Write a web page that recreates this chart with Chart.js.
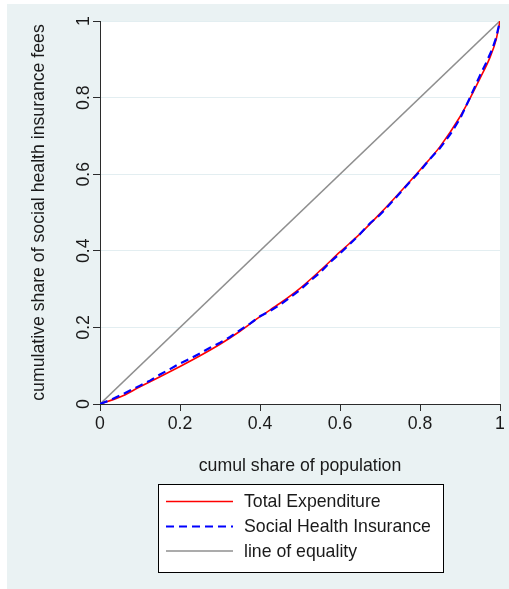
<!DOCTYPE html>
<html>
<head>
<meta charset="utf-8">
<script src="https://cdn.jsdelivr.net/npm/chart.js@4"></script>
<style>
  html, body { margin: 0; padding: 0; background: #ffffff; }
  #panel { position: absolute; left: 7px; top: 4px; width: 502px; height: 585px; background: #eaf2f3; }
  canvas { display: block; }
</style>
</head>
<body>
<div id="panel"><canvas id="c" width="502" height="585"></canvas></div>
<script>
// ---- data ----
const seriesLabels = ["Total Expenditure", "Social Health Insurance", "line of equality"];
const totalX = [0, 0.05, 0.1, 0.15, 0.2, 0.25, 0.3, 0.35, 0.4, 0.45, 0.5, 0.55, 0.6, 0.65, 0.7, 0.75, 0.8, 0.85, 0.9, 0.925, 0.95, 0.975, 0.99, 1];
const totalY = [0, 0.018, 0.045, 0.071, 0.098, 0.126, 0.156, 0.19, 0.228, 0.263, 0.302, 0.348, 0.397, 0.444, 0.497, 0.553, 0.611, 0.672, 0.75, 0.798, 0.85, 0.905, 0.95, 1];
const shiX = [0, 0.025, 0.05, 0.075, 0.1, 0.125, 0.15, 0.175, 0.2, 0.225, 0.25, 0.275, 0.3, 0.325, 0.35, 0.375, 0.4, 0.425, 0.45, 0.475, 0.5, 0.525, 0.55, 0.575, 0.6, 0.625, 0.65, 0.675, 0.7, 0.725, 0.75, 0.775, 0.8, 0.825, 0.85, 0.875, 0.9, 0.925, 0.95, 0.965, 0.98, 0.99, 1];
const shiY = [0, 0.01, 0.022, 0.035, 0.048, 0.061, 0.077, 0.091, 0.106, 0.118, 0.132, 0.147, 0.16, 0.175, 0.193, 0.21, 0.229, 0.243, 0.259, 0.278, 0.298, 0.321, 0.343, 0.37, 0.393, 0.418, 0.444, 0.472, 0.494, 0.522, 0.551, 0.58, 0.608, 0.64, 0.668, 0.703, 0.745, 0.8, 0.858, 0.89, 0.925, 0.955, 1];
const equalX = [0, 1];
const equalY = [0, 1];
const xTicks = [0, 0.2, 0.4, 0.6, 0.8, 1];
const yTicks = [0, 0.2, 0.4, 0.6, 0.8, 1];
const xTitle = "cumul share of population";
const yTitle = "cumulative share of social health insurance fees";

const FONT = '"Liberation Sans", Arial, sans-serif';
const FS = 17.7;
const TXT = '#1a1a1a';
const AXIS = '#2b2b2b';

function pts(xs, ys) { return xs.map((x, i) => ({ x: x, y: ys[i] })); }
function fmt(v) { return String(Number(Number(v).toFixed(2))); }

const plotBg = {
  id: 'plotBg',
  beforeDraw(chart) {
    const a = chart.chartArea, ctx = chart.ctx;
    ctx.save();
    ctx.fillStyle = '#ffffff';
    ctx.fillRect(a.left, a.top, a.right - a.left, a.bottom - a.top);
    ctx.restore();
  }
};

const yLabels = {
  id: 'yLabels',
  afterDraw(chart) {
    const s = chart.scales.y, ctx = chart.ctx;
    ctx.save();
    ctx.fillStyle = TXT;
    ctx.font = FS + 'px ' + FONT;
    ctx.textAlign = 'center';
    ctx.textBaseline = 'alphabetic';
    s.ticks.forEach(t => {
      const py = s.getPixelForValue(t.value);
      ctx.save();
      ctx.translate(81.5, py);
      ctx.rotate(-Math.PI / 2);
      ctx.fillText(fmt(t.value), 0, 0);
      ctx.restore();
    });
    ctx.restore();
  }
};

const boxLegend = {
  id: 'boxLegend',
  afterDraw(chart) {
    const ctx = chart.ctx;
    const L = 151.5, T = 480.5, W = 285, H = 88;
    ctx.save();
    ctx.fillStyle = '#ffffff';
    ctx.fillRect(L, T, W, H);
    ctx.strokeStyle = '#000000';
    ctx.lineWidth = 1;
    ctx.strokeRect(L, T, W, H);
    const rows = [497.5, 522.5, 547];
    chart.data.datasets.forEach((ds, i) => {
      const y = rows[i];
      ctx.beginPath();
      ctx.strokeStyle = ds.borderColor;
      ctx.lineWidth = ds.borderWidth;
      ctx.setLineDash(ds.borderDash || []);
      ctx.moveTo(159, y);
      ctx.lineTo(226, y);
      ctx.stroke();
      ctx.setLineDash([]);
      ctx.fillStyle = TXT;
      ctx.font = FS + 'px ' + FONT;
      ctx.textAlign = 'left';
      ctx.textBaseline = 'middle';
      ctx.fillText(ds.label, 237, y + 1);
    });
    ctx.restore();
  }
};

new Chart(document.getElementById('c'), {
  type: 'line',
  data: {
    datasets: [
      { label: seriesLabels[0], data: pts(totalX, totalY), borderColor: '#ff0000', borderWidth: 1.6,
        pointRadius: 0, fill: false, cubicInterpolationMode: 'monotone', order: 1 },
      { label: seriesLabels[1], data: pts(shiX, shiY), borderColor: '#0000ff', borderWidth: 2.2,
        borderDash: [8, 5], pointRadius: 0, fill: false, tension: 0, order: 0 },
      { label: seriesLabels[2], data: pts(equalX, equalY), borderColor: '#8f8f8f', borderWidth: 1.6,
        pointRadius: 0, fill: false, order: 2 }
    ]
  },
  options: {
    responsive: false,
    animation: false,
    events: [],
    layout: { padding: { left: 0, top: 17, right: 9, bottom: 0 } },
    plugins: { legend: { display: false }, tooltip: { enabled: false } },
    scales: {
      x: {
        type: 'linear', min: 0, max: 1,
        afterBuildTicks(s) { s.ticks = xTicks.map(v => ({ value: v })); },
        afterFit(s) { s.height = 185; },
        grid: { drawOnChartArea: false, tickLength: 7, tickColor: AXIS, tickWidth: 1 },
        border: { color: AXIS, width: 1 },
        ticks: { color: TXT, font: { family: FONT, size: FS }, padding: 2, maxRotation: 0, autoSkip: false,
                 callback: v => fmt(v) },
        title: { display: true, text: xTitle, color: TXT, font: { family: FONT, size: FS }, padding: { top: 0, bottom: 112 } }
      },
      y: {
        type: 'linear', min: 0, max: 1,
        afterBuildTicks(s) { s.ticks = yTicks.map(v => ({ value: v })); },
        afterFit(s) { s.width = 93; },
        grid: { color: '#e3eef1', lineWidth: 1, tickLength: 7, tickColor: AXIS, tickWidth: 1 },
        border: { color: AXIS, width: 1 },
        ticks: { display: false, callback: v => fmt(v) },
        title: { display: true, text: yTitle, color: TXT, font: { family: FONT, size: FS }, padding: { top: 21, bottom: 0 } }
      }
    }
  },
  plugins: [plotBg, yLabels, boxLegend]
});
</script>
</body>
</html>
